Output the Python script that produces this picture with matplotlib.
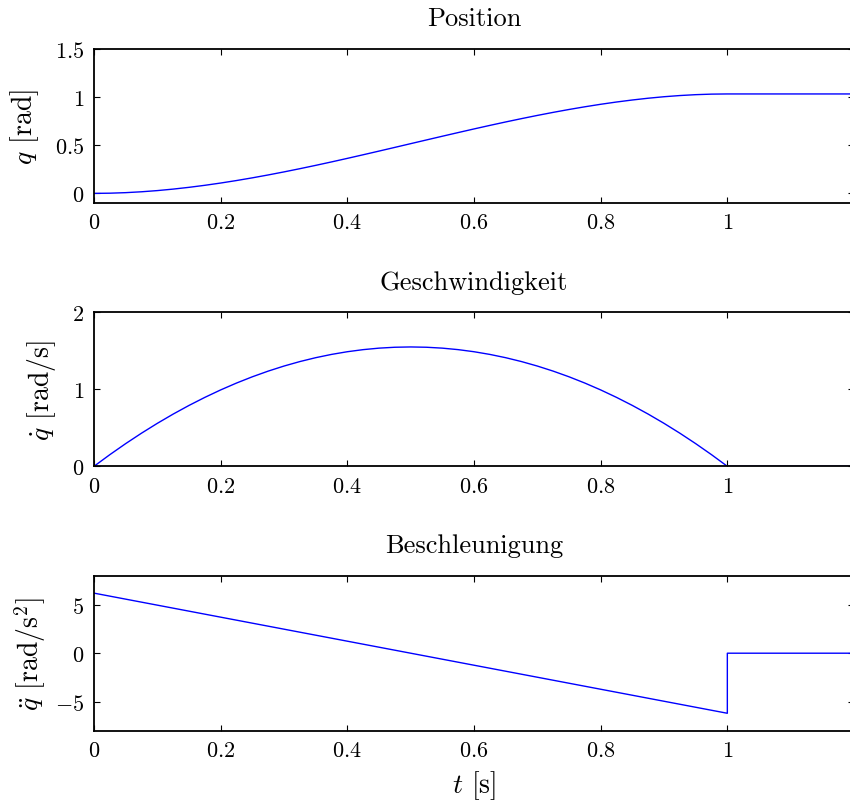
import matplotlib
matplotlib.use("Agg")
import matplotlib.pyplot as plt
from matplotlib.ticker import FuncFormatter

plt.rcParams['font.family'] = 'cmr10'
plt.rcParams['mathtext.fontset'] = 'cm'
plt.rcParams['axes.unicode_minus'] = False

# sampled trajectory (time in s)
t = [0.0, 0.025, 0.05, 0.075, 0.1, 0.125, 0.15, 0.175, 0.2, 0.225, 0.25,
     0.275, 0.3, 0.325, 0.35, 0.375, 0.4, 0.425, 0.45, 0.475, 0.5,
     0.525, 0.55, 0.575, 0.6, 0.625, 0.65, 0.675, 0.7, 0.725, 0.75,
     0.775, 0.8, 0.825, 0.85, 0.875, 0.9, 0.925, 0.95, 0.975, 1.0, 1.2]
pos = [0.0, 0.0019, 0.0075, 0.0166, 0.0289, 0.0444, 0.0628, 0.0838, 0.1074, 0.1334, 0.1614,
       0.1914, 0.2231, 0.2564, 0.2910, 0.3268, 0.3636, 0.4012, 0.4393, 0.4778, 0.5165,
       0.5552, 0.5937, 0.6318, 0.6694, 0.7062, 0.7420, 0.7766, 0.8099, 0.8416, 0.8716,
       0.8996, 0.9256, 0.9492, 0.9702, 0.9886, 1.0041, 1.0164, 1.0255, 1.0311, 1.033, 1.033]
vel = [0.0, 0.1511, 0.2945, 0.4301, 0.558, 0.6781, 0.7905, 0.8951, 0.992, 1.0811, 1.1625,
       1.2361, 1.302, 1.3601, 1.4105, 1.4531, 1.488, 1.5151, 1.5345, 1.5461, 1.55,
       1.5461, 1.5345, 1.5151, 1.488, 1.4531, 1.4105, 1.3601, 1.302, 1.2361, 1.1625,
       1.0811, 0.992, 0.8951, 0.7905, 0.6781, 0.558, 0.4301, 0.2945, 0.1511, 0.0, 0.0]
t_acc = [0.0, 1.0, 1.0, 1.2]
acc = [6.2, -6.2, 0.0, 0.0]

titles = ["Position", "Geschwindigkeit", "Beschleunigung"]
ylabels = [r"$q$ [rad]", r"$\dot{q}$ [rad/s]", r"$\ddot{q}$ [rad/s$^2$]"]
yticks = [[0, 0.5, 1, 1.5], [0, 1, 2], [-5, 0, 5]]
ylims = [(-0.1, 1.5), (0, 2), (-8, 8)]
xticks = [0, 0.2, 0.4, 0.6, 0.8, 1]
ypads = [10, 10, 5]

W, H = 850, 803
fig = plt.figure(figsize=(W / 100, H / 100), dpi=100)
boxes = [(50, 204), (313.3, 467.3), (576.7, 731.7)]
series = [(t, pos), (t, vel), (t_acc, acc)]

fmt = FuncFormatter(lambda v, p: "$%g$" % v)
for i, ((top, bot), (xs, ys)) in enumerate(zip(boxes, series)):
    ax = fig.add_axes([94 / W, 1 - bot / H, 760 / W, (bot - top) / H])
    ax.plot(xs, ys, color='blue', lw=1.0)
    ax.set_xlim(0, 1.2)
    ax.set_ylim(*ylims[i])
    ax.set_xticks(xticks)
    ax.set_yticks(yticks[i])
    ax.xaxis.set_major_formatter(fmt)
    ax.yaxis.set_major_formatter(fmt)
    ax.tick_params(direction='in', length=4, width=0.8, top=True, right=True,
                   labelsize=16, pad=7)
    for s in ax.spines.values():
        s.set_linewidth(1.3)
    ax.set_title(titles[i], fontsize=19, pad=17)
    ax.set_ylabel(ylabels[i], fontsize=20, labelpad=ypads[i])
    if i == 2:
        ax.set_xlabel(r"$t$ [s]", fontsize=20, labelpad=6)

fig.savefig("out.png", dpi=100)
